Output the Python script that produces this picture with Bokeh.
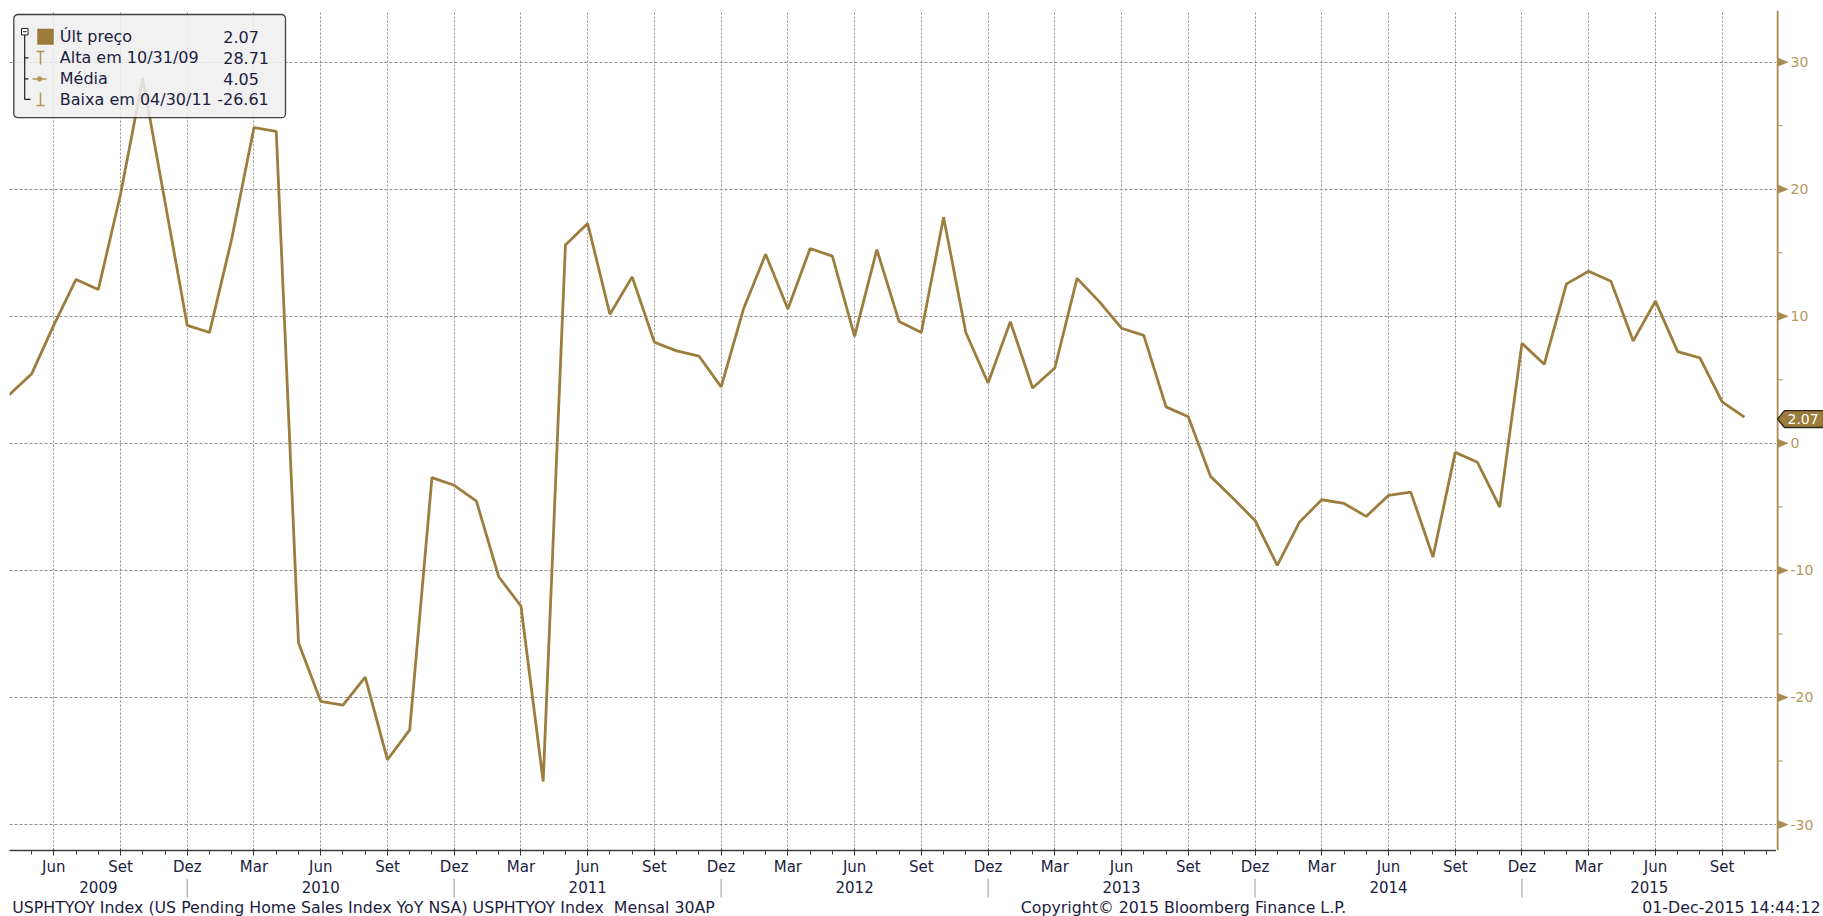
from bokeh.plotting import figure
from bokeh.layouts import column, row
from bokeh.models import Range1d, FixedTicker, Label, PolyAnnotation, BoxAnnotation
from bokeh.embed import file_html
from bokeh.resources import INLINE
from bokeh.core.properties import value

# ---------------- data ----------------
start_year = 2009
start_month = 4   # first observation: Apr 2009 (monthly)
yoy = [3.83, 5.45, 9.3, 12.9, 12.1, 19.6, 28.71, 19.0, 9.28,
       8.72, 16.1, 24.85, 24.55, -15.7, -20.3, -20.6, -18.4, -24.9, -22.55, -2.7, -3.3,
       -4.55, -10.5, -12.8, -26.61, 15.6, 17.3, 10.16, 13.1, 7.96, 7.28, 6.87, 4.44,
       10.55, 14.88, 10.57, 15.33, 14.73, 8.41, 15.25, 9.58, 8.72, 17.8, 8.72, 4.75,
       9.58, 4.36, 5.93, 12.98, 11.15, 9.06, 8.49, 2.87, 2.09, -2.6, -4.3, -6.07,
       -9.6, -6.2, -4.44, -4.73, -5.75, -4.1, -3.84, -8.94, -0.71, -1.49, -5.02, 7.87,
       6.22, 12.55, 13.54, 12.76, 8.05, 11.19, 7.22, 6.72, 3.27, 2.07]
month_names = ["Jan", "Fev", "Mar", "Abr", "Mai", "Jun", "Jul", "Ago", "Set", "Out", "Nov", "Dez"]
labeled_months = ["Mar", "Jun", "Set", "Dez"]
year_labels = ["2009", "2010", "2011", "2012", "2013", "2014", "2015"]
y_ticks = [-30, -20, -10, 0, 10, 20, 30]
y_minor = [-25, -15, -5, 5, 15, 25]
legend_names = ["Últ preço", "Alta em 10/31/09", "Média", "Baixa em 04/30/11"]
legend_vals = ["2.07", "28.71", "4.05", "-26.61"]
last_label = "2.07"
footer_left = "USPHTYOY Index (US Pending Home Sales Index YoY NSA) USPHTYOY Index \u00a0Mensal 30AP"
footer_mid = "Copyright\u00a9 2015 Bloomberg Finance L.P."
footer_right = "01-Dec-2015 14:44:12"

# ---------------- styling / geometry ----------------
LINE_C = "#9d7d3d"
TAN = "#a98a4e"
TAN_TXT = "#b59659"
NAVY = "#1c1c3e"
GRID_C = "#8e8e8e"
FONT = "DejaVu Sans"

W, H = 1823, 916
FL, FR, FT, FB = 9, 1776, 10, 851          # main frame edges in page pixels
M0_PX, M_STEP = 8.8, 22.245                # month 0 position, px per month
Y_ZERO_PX, Y_PPU = 443.35, 12.722          # y=0 position, px per unit

X0 = (FL - M0_PX) / M_STEP
X1 = (FR - M0_PX) / M_STEP
Y1 = (Y_ZERO_PX - FT) / Y_PPU
Y0 = -(FB - Y_ZERO_PX) / Y_PPU


def xd(px):
    return (px - M0_PX) / M_STEP


def yd(py):
    return (Y_ZERO_PX - py) / Y_PPU


H_MAIN = 878
H_BOT = H - H_MAIN

n = len(yoy)
xs = list(range(n))


def month_of(m):
    return (start_month - 1 + m) % 12


all_months = list(range(0, 80))
major = [m for m in all_months if month_names[month_of(m)] in labeled_months]
overrides = {m: month_names[month_of(m)] for m in major}
dec_marks = [m for m in all_months if month_names[month_of(m)] == "Dez"]

yr = Range1d(Y0, Y1)

# ================= main figure =================
p = figure(width=FR, height=H_MAIN, x_range=Range1d(X0, X1), y_range=yr,
           output_backend="svg", toolbar_location=None, y_axis_location=None,
           min_border_left=FL, min_border_right=0, min_border_top=FT,
           min_border_bottom=H_MAIN - FB)
p.outline_line_color = None
p.background_fill_color = "white"
p.border_fill_color = "white"

p.xgrid.ticker = FixedTicker(ticks=major)
p.xgrid.grid_line_color = GRID_C
p.xgrid.grid_line_dash = "2 2"
p.xgrid.grid_line_width = 1
p.ygrid.ticker = FixedTicker(ticks=y_ticks)
p.ygrid.grid_line_color = GRID_C
p.ygrid.grid_line_dash = "3 2"
p.ygrid.grid_line_width = 1

xa = p.xaxis[0]
xa.ticker = FixedTicker(ticks=major, minor_ticks=all_months)
xa.major_label_overrides = overrides
xa.axis_line_color = "#3c3c3c"
xa.axis_line_width = 1.5
xa.major_tick_line_color = "#3c3c3c"
xa.minor_tick_line_color = "#3c3c3c"
xa.major_tick_out = 5
xa.major_tick_in = 2
xa.minor_tick_out = 4
xa.minor_tick_in = 0
xa.major_label_text_font = FONT
xa.major_label_text_font_size = "15px"
xa.major_label_text_color = NAVY
xa.major_label_standoff = 2

p.line(xs, yoy, line_color=LINE_C, line_width=2.8)

# legend box (inside frame)
p.add_layout(BoxAnnotation(left=xd(13.3), right=xd(285), top=yd(14), bottom=yd(117.3),
                           fill_color="#efefef", fill_alpha=0.85, line_color="#404040",
                           line_alpha=1, line_width=1.3, border_radius=4))
row_y = [36.5, 57.5, 78.5, 99]
for i, (nm, vl) in enumerate(zip(legend_names, legend_vals)):
    p.add_layout(Label(x=xd(59.3), y=yd(row_y[i]), text=nm, text_font=FONT,
                       text_font_size="16px", text_color=NAVY, text_baseline="middle"))
    vx = 216.7 if vl.startswith("-") else 222.7
    p.add_layout(Label(x=xd(vx), y=yd(row_y[i]), text=vl, text_font=FONT,
                       text_font_size="16px", text_color=NAVY, text_baseline="middle"))


def poly(xp, yp, fill=None, line="#000000", w=1.2):
    p.add_layout(PolyAnnotation(xs=[xd(v) for v in xp], ys=[yd(v) for v in yp],
                                fill_color=fill if fill else "white", fill_alpha=1 if fill else 0,
                                line_color=line, line_alpha=1, line_width=w))


TREE = "#202020"
poly([21, 27.5, 27.5, 21], [28, 28, 34.5, 34.5], fill="white", line=TREE, w=1)
poly([22.5, 26], [31.2, 31.2], line=TREE, w=1)
poly([24.2, 24.2], [34.5, 99], line=TREE, w=1.2)
poly([24.2, 30], [99, 99], line=TREE, w=1.2)
poly([24.2, 28], [57.5, 57.5], line=TREE, w=1.2)
poly([24.2, 28], [78.5, 78.5], line=TREE, w=1.2)

ICON = "#b39457"
poly([37, 53, 53, 37], [28.5, 28.5, 44, 44], fill="#9c7c3c", line="#9c7c3c", w=0.5)
poly([36, 44], [51, 51], line=ICON, w=1.5)
poly([40, 40], [51, 64], line=ICON, w=1.5)
poly([32, 46], [78.5, 78.5], line=ICON, w=1.5)
oct_dx = [2.5, 1.8, 0, -1.8, -2.5, -1.8, 0, 1.8]
oct_dy = [0, 1.8, 2.5, 1.8, 0, -1.8, -2.5, -1.8]
poly([39 + d for d in oct_dx], [78.5 + d for d in oct_dy], fill=ICON, line=ICON, w=0.5)
poly([40, 40], [92, 105], line=ICON, w=1.5)
poly([36, 44], [105, 105], line=ICON, w=1.5)

# ================= right strip (value axis) =================
RW = W - FR
r = figure(width=RW, height=H_MAIN, x_range=Range1d(0, RW), y_range=yr,
           output_backend="svg", toolbar_location=None, x_axis_location=None,
           y_axis_location=None, min_border_left=0, min_border_right=0,
           min_border_top=FT, min_border_bottom=H_MAIN - FB)
r.outline_line_color = None
r.xgrid.visible = False
r.ygrid.visible = False
r.background_fill_color = "white"
r.border_fill_color = "white"

r.segment(x0=[1], y0=[Y0], x1=[1], y1=[Y1], line_color=TAN, line_width=2)
d_tri = 4.3 / Y_PPU
r.patches(xs=[[1, 1, 11.5] for _ in y_ticks],
          ys=[[t + d_tri, t - d_tri, t] for t in y_ticks],
          fill_color=TAN, line_color=TAN, line_width=0.5)
r.segment(x0=[1] * len(y_minor), y0=y_minor, x1=[6] * len(y_minor), y1=y_minor,
          line_color=TAN, line_width=1)
r.text(x=[14] * len(y_ticks), y=y_ticks, text=[str(t) for t in y_ticks],
       text_font=value(FONT), text_font_size=value("14px"), text_color=TAN_TXT,
       text_align="left", text_baseline="middle")

v_last = yoy[-1] - 2 / Y_PPU
d_tag = 8.5 / Y_PPU
r.patch(x=[1, 8, RW, RW, 8], y=[v_last, v_last + d_tag, v_last + d_tag, v_last - d_tag, v_last - d_tag],
        fill_color="#9c7c3c", line_color="#2e2618", line_width=1.3)
r.text(x=[11], y=[v_last], text=[last_label], text_font=value(FONT),
       text_font_size=value("14px"), text_color="white", text_align="left", text_baseline="middle")

# ================= bottom strip (years + footer) =================
b = figure(width=W, height=H_BOT, x_range=Range1d(0, W), y_range=Range1d(H_BOT, 0),
           output_backend="svg", toolbar_location=None, x_axis_location=None,
           y_axis_location=None, min_border_left=0, min_border_right=0,
           min_border_top=0, min_border_bottom=0)
b.outline_line_color = None
b.xgrid.visible = False
b.ygrid.visible = False
b.background_fill_color = "white"
b.border_fill_color = "white"
b.extra_x_ranges = {"months": Range1d(xd(0), xd(W))}

b.segment(x0=dec_marks, y0=[0] * len(dec_marks), x1=dec_marks, y1=[897 - H_MAIN] * len(dec_marks),
          line_color="#9a9a9a", line_width=1, x_range_name="months")
bounds = [X0] + dec_marks + [X1]
year_x = [(bounds[i] + bounds[i + 1]) / 2 for i in range(len(year_labels))]
b.text(x=year_x, y=[886 - H_MAIN] * len(year_labels), text=year_labels, x_range_name="months",
       text_font=value(FONT), text_font_size=value("15px"), text_color=NAVY,
       text_align="center", text_baseline="middle")

FOOT_Y = 906.5 - H_MAIN
FOOT_FS = value("15.8px")
b.text(x=[11.7], y=[FOOT_Y], text=[footer_left], text_font=value(FONT), text_font_size=FOOT_FS,
       text_color=NAVY, text_align="left", text_baseline="middle")
b.text(x=[1183], y=[FOOT_Y], text=[footer_mid], text_font=value(FONT), text_font_size=FOOT_FS,
       text_color=NAVY, text_align="center", text_baseline="middle")
b.text(x=[1820], y=[FOOT_Y], text=[footer_right], text_font=value(FONT), text_font_size=FOOT_FS,
       text_color=NAVY, text_align="right", text_baseline="middle")

layout = column(row(p, r, spacing=0), b, spacing=0)
open("out.html", "w").write(file_html(layout, INLINE))
